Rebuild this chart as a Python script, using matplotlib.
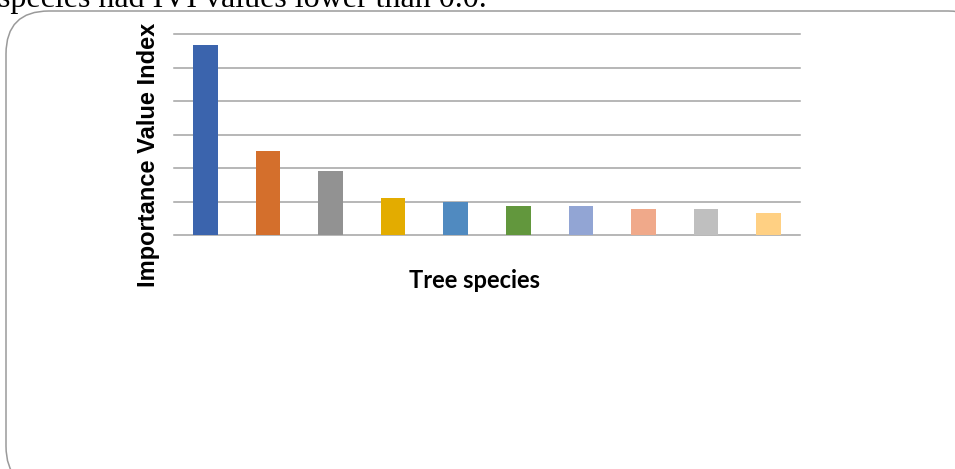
import matplotlib.pyplot as plt
from matplotlib.patches import FancyBboxPatch

# IVI per tree species, sorted high to low
species = ['sp1', 'sp2', 'sp3', 'sp4', 'sp5', 'sp6', 'sp7', 'sp8', 'sp9', 'sp10']
ivi = [56.6, 25.0, 19.3, 11.2, 9.9, 8.6, 8.6, 7.8, 7.8, 6.7]
bar_colors = ['#3B64AD', '#D46F2C', '#929292', '#E3AC00', '#508AC0',
              '#62973D', '#92A5D4', '#F0A98A', '#BFBFBF', '#FFD083']
grid_ticks = [0, 10, 20, 30, 40, 50, 60]

W, H = 955, 469
fig = plt.figure(figsize=(W / 100, H / 100), dpi=100)

# rounded frame around the chart area (kept behind the axes)
frame = FancyBboxPatch((6 / W, -20 / H), (W + 30) / W, (H + 9) / H,
                       boxstyle='round,pad=0,rounding_size=0.045',
                       transform=fig.transFigure, facecolor='white',
                       edgecolor='#9A9A9A', linewidth=1.1,
                       mutation_aspect=W / H, zorder=-1)
fig.patches.append(frame)

# sentence from the surrounding text, cut off at the top
fig.text(-0.002, 1 - 7 / H, 'species had IVI values lower than 0.0.',
         family='Liberation Serif', fontsize=23, va='baseline', ha='left')

ax = fig.add_axes([174 / W, (H - 235.3) / H, 626 / W, 201.3 / H])
ax.set_facecolor('none')
x = list(range(len(species)))
ax.bar(x, ivi, width=0.39, color=bar_colors, zorder=3)

ax.set_xlim(-0.5, len(species) - 0.5)
ax.set_ylim(0, 60)
ax.set_yticks(grid_ticks)
ax.yaxis.grid(True, color='#A3A3A3', linewidth=1.1, zorder=0, clip_on=False)
ax.tick_params(left=False, bottom=False, labelleft=False, labelbottom=False)
for s in ax.spines.values():
    s.set_visible(False)

fig.text(148 / W, 1 - 155 / H, 'Importance Value Index', rotation=90,
         family='Liberation Sans', fontweight='bold', fontsize=17,
         ha='center', va='center')
fig.text(474 / W, 1 - 281 / H, 'Tree species', family='Lato',
         fontweight='bold', fontsize=17, ha='center', va='center')

fig.savefig('out.png', dpi=100)
